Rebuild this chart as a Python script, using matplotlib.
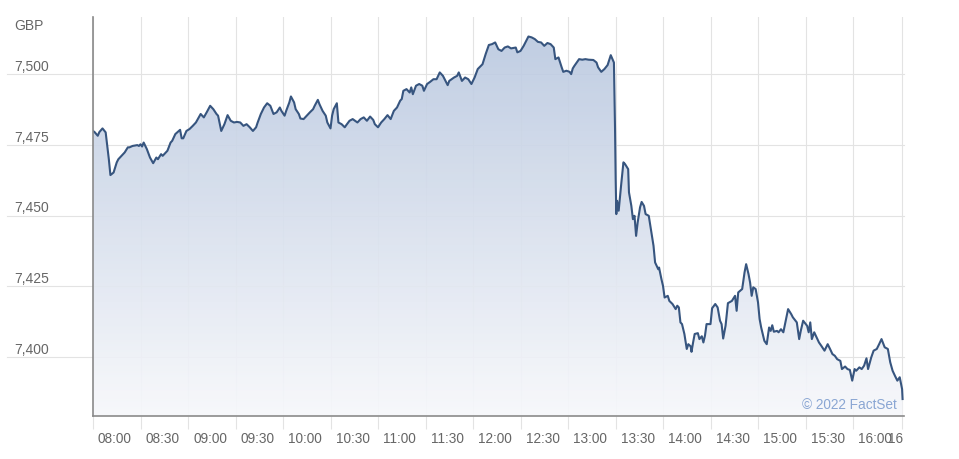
import matplotlib
matplotlib.use("Agg")
import matplotlib.pyplot as plt
import matplotlib.transforms as mtransforms
from matplotlib.patches import Polygon
from matplotlib.colors import LinearSegmentedColormap
import numpy as np

plt.rcParams['font.family'] = ['Liberation Sans', 'DejaVu Sans']

# intraday prices, minutes after 08:00
minutes_a = [0, 1, 3, 4, 6, 8, 9, 10, 11, 13, 15, 16, 18, 20, 22, 23, 25, 28, 29, 30,
             31, 32, 34, 36, 38, 40, 41, 43, 44, 47, 49, 50, 52, 55, 56, 57, 59, 61, 63, 65,
             68, 70, 72, 74, 76, 78, 79, 81, 83]
prices_a = [7479.9, 7479.5, 7478.2, 7479.5, 7480.8, 7479.4, 7474.6, 7469.9, 7464.3, 7465.2,
            7468.8, 7469.9, 7471.1, 7472.3, 7474.1, 7474.1, 7474.6, 7474.9, 7474.6, 7475.2,
            7474.4, 7475.8, 7473.5, 7470.5, 7468.5, 7470.5, 7469.9, 7471.7, 7471.1, 7472.9,
            7475.8, 7476.4, 7478.8, 7480.3, 7477.3, 7477.3, 7479.9, 7480.6, 7481.7, 7482.9,
            7485.9, 7484.7, 7486.7, 7488.8, 7487.6, 7485.9, 7485.3, 7479.9, 7482.3]

minutes_b = [85, 87, 89, 91, 93, 95, 97, 99, 101, 103, 104, 106, 108, 110, 112, 114, 116, 118, 119, 121,
             122, 124, 125, 127, 128, 130, 131, 133, 135, 137, 139, 140, 142, 143, 145, 147, 148, 150, 151, 152,
             154, 155, 157, 159, 160, 162, 164, 167, 169]
prices_b = [7485.5, 7483.5, 7482.9, 7483.1, 7482.9, 7481.7, 7482.3, 7481.2, 7479.9, 7481.2,
            7482.9, 7485.9, 7488.2, 7489.7, 7488.8, 7485.9, 7486.5, 7488.2, 7487.0, 7485.3,
            7487.0, 7490.0, 7492.1, 7490.0, 7487.6, 7485.9, 7484.3, 7484.1, 7485.3, 7486.5,
            7487.6, 7488.8, 7490.9, 7489.4, 7487.0, 7485.3, 7482.9, 7480.8, 7485.3, 7487.6,
            7489.7, 7482.9, 7482.3, 7481.2, 7482.0, 7483.5, 7484.1, 7482.9, 7484.1]

minutes_c = [171, 173, 175, 177, 178, 180, 182, 184, 186, 188, 190, 192, 194, 195, 196, 198, 200, 201, 202, 204,
             206, 208, 209, 211, 213, 215, 217, 219, 221, 224, 225, 228, 230, 231, 233, 235, 237, 239, 241, 243,
             246, 248, 250, 252, 254, 256]
prices_c = [7484.7, 7483.5, 7485.0, 7483.8, 7482.3, 7481.2, 7482.9, 7484.1, 7485.5, 7484.1,
            7487.0, 7488.2, 7490.6, 7491.2, 7494.1, 7494.7, 7493.5, 7495.3, 7492.9, 7495.9,
            7496.5, 7495.9, 7494.1, 7496.5, 7497.3, 7498.2, 7498.2, 7500.6, 7499.4, 7496.1,
            7497.6, 7498.8, 7499.4, 7500.6, 7497.6, 7498.8, 7498.2, 7496.5, 7498.8, 7501.8,
            7503.5, 7507.1, 7510.3, 7510.6, 7511.2, 7508.8]

minutes_d = [258, 260, 262, 264, 267, 268, 270, 272, 275, 277, 279, 281, 283, 285, 287, 289, 291, 292, 294, 296,
             297, 299, 301, 302, 303, 304, 307, 309, 311, 313, 316, 318, 319, 321, 323, 325, 327, 329, 329.7, 330.1,
             330.5, 331, 332, 333.5, 335, 336]
prices_d = [7508.2, 7509.4, 7509.8, 7509.1, 7509.4, 7507.7, 7508.2, 7510.0, 7513.3, 7513.0,
            7512.4, 7511.4, 7511.2, 7510.0, 7511.0, 7510.6, 7509.4, 7505.3, 7505.9, 7502.4,
            7500.8, 7501.2, 7500.8, 7500.0, 7502.0, 7502.9, 7505.3, 7505.1, 7505.3, 7505.1,
            7505.0, 7504.1, 7502.4, 7500.8, 7501.8, 7503.2, 7506.7, 7504.1, 7480.6, 7462.9,
            7450.5, 7455.2, 7451.7, 7460.5, 7468.8, 7468.2]

minutes_e = [338, 338.5, 340, 341, 342, 343, 344, 345.5, 346.5, 348, 349, 351, 352, 354, 355, 357, 357.5, 359, 360, 361,
             363, 364, 366, 368, 369, 370, 371, 372, 373.5, 375, 376, 377.5, 378, 379, 380, 382, 383, 384.5, 385.5, 386.5,
             387.5, 390, 391, 393, 394.5, 396, 397, 398, 399.5, 401, 403.5, 405.5, 406.5, 407.5, 410, 411.5, 412.5, 414, 415, 416,
             417, 418.5, 420, 421, 422, 424, 425.5]
prices_e = [7466.4, 7458.2, 7453.4, 7448.7, 7449.9, 7442.8, 7447.6, 7452.9, 7454.8, 7453.4,
            7450.5, 7449.9, 7446.4, 7439.3, 7433.4, 7431.0, 7431.6, 7427.5, 7425.1, 7421.0,
            7421.6, 7419.8, 7418.7, 7416.9, 7418.1, 7417.5, 7412.2, 7411.6, 7408.1, 7402.8,
            7404.5, 7403.7, 7401.8, 7405.1, 7408.1, 7408.4, 7406.3, 7407.3, 7405.1, 7407.5,
            7411.6, 7411.6, 7417.2, 7418.7, 7417.5, 7412.8, 7411.6, 7406.5, 7411.0, 7419.0,
            7419.8, 7421.6, 7416.3, 7422.8, 7424.0, 7429.9, 7432.8, 7429.3, 7426.3, 7421.6,
            7424.6, 7424.0, 7419.3, 7413.4, 7410.4, 7405.7, 7404.5]

minutes_f = [427, 428, 429, 430, 432, 433, 434.5, 436, 437.5, 439, 441, 442, 444.5, 446, 447, 448.5, 451, 452, 453, 454,
             455.5, 457, 458.5, 460, 462, 464, 465.5, 467, 468.5, 470, 472, 473, 475, 476.5, 478, 479.5, 481, 482, 484, 485.5,
             487, 488.5, 489.5, 491.5, 493, 495, 496.5, 498, 500, 502, 503.5, 505, 506.5, 508, 509.5, 511, 511.3]
prices_f = [7410.4, 7409.2, 7411.2, 7408.9, 7409.2, 7408.7, 7409.8, 7408.7, 7412.8, 7416.9,
            7415.1, 7414.0, 7412.2, 7406.3, 7409.2, 7412.8, 7411.0, 7408.7, 7412.2, 7406.3,
            7408.7, 7406.9, 7405.1, 7403.9, 7402.2, 7404.5, 7402.8, 7401.0, 7400.4, 7399.2,
            7398.6, 7395.7, 7396.6, 7395.7, 7395.4, 7391.6, 7395.7, 7395.1, 7396.3, 7395.7,
            7396.9, 7399.5, 7395.7, 7399.8, 7402.2, 7402.8, 7404.5, 7406.3, 7403.4, 7402.8,
            7398.1, 7395.1, 7393.3, 7391.6, 7392.8, 7388.6, 7385.1]

tick_minutes = [0, 30, 60, 90, 120, 150, 180, 210, 240, 270, 300, 330, 360, 390, 420, 450, 480]
tick_labels = ["08:00", "08:30", "09:00", "09:30", "10:00", "10:30", "11:00", "11:30", "12:00",
               "12:30", "13:00", "13:30", "14:00", "14:30", "15:00", "15:30", "16:00"]
last_tick = 511
last_label = "16"
y_ticks = [7400, 7425, 7450, 7475, 7500]
y_labels = ["7,400", "7,425", "7,450", "7,475", "7,500"]

x = np.array(minutes_a + minutes_b + minutes_c + minutes_d + minutes_e + minutes_f)
y = np.array(prices_a + prices_b + prices_c + prices_d + prices_e + prices_f)

x_lo, x_hi = 0, 512.2
y_lo, y_hi = 7379.1, 7520.2
grid_col = "#e3e3e3"
text_col = "#666666"

fig = plt.figure(figsize=(9.59, 4.6), dpi=100)
ax = fig.add_axes([93 / 959, 43 / 460, 811 / 959, 399 / 460])

# gradient area under the line
poly = Polygon([(x[0], y_lo)] + list(zip(x, y)) + [(x[-1], y_lo)], closed=True,
               facecolor="none", edgecolor="none")
ax.add_patch(poly)
cmap = LinearSegmentedColormap.from_list("fs", ["#f7f8fb", "#b8c7df"])
grad = np.linspace(0, 1, 256).reshape(-1, 1)
im = ax.imshow(grad, aspect="auto", cmap=cmap, origin="lower",
               extent=[x_lo, x_hi, y_lo, y_hi], zorder=1, alpha=0.92)
im.set_clip_path(poly)

ax.plot(x, y, color="#37557f", lw=1.5, zorder=3)

ax.set_xlim(x_lo, x_hi)
ax.set_ylim(y_lo, y_hi)

# vertical grid + tick marks
ax.set_xticks(tick_minutes + [last_tick])
ax.set_xticklabels([])
ax.tick_params(axis="x", length=9, width=0.8, color=grid_col, direction="out")
ax.grid(axis="x", color=grid_col, lw=0.8, zorder=0)
ax.set_axisbelow(True)
ax.set_yticks([])

# horizontal grid running out to the labels
for v in y_ticks:
    ax.plot([-86 / 811, 1], [v, v], transform=ax.get_yaxis_transform(), color=grid_col,
            lw=0.8, clip_on=False, zorder=0)

for side in ["top", "right"]:
    ax.spines[side].set_visible(False)
for side in ["left", "bottom"]:
    ax.spines[side].set_color("#8a8a8a")
    ax.spines[side].set_linewidth(1.2)
    ax.spines[side].set_zorder(4)

# y labels sitting above the gridlines
blend = mtransforms.blended_transform_factory(fig.transFigure, ax.transData)
lab_tr = mtransforms.offset_copy(blend, fig=fig, y=3, units="points")
for v, lbl in zip(y_ticks, y_labels):
    ax.text(14 / 959, v, lbl, transform=lab_tr, va="baseline", ha="left",
            fontsize=10, color=text_col)
fig.text(14 / 959, 1 - 29.5 / 460, "GBP", va="baseline", ha="left", fontsize=10, color=text_col)

# x labels to the right of each tick
for m, lbl in zip(tick_minutes, tick_labels):
    ax.annotate(lbl, xy=(m, 0), xycoords=("data", "axes fraction"), xytext=(3.6, -18.5),
                textcoords="offset points", ha="left", va="baseline", fontsize=9.8, color=text_col)
ax.annotate(last_label, xy=(last_tick, 0), xycoords=("data", "axes fraction"), xytext=(0.8, -18.5),
            textcoords="offset points", ha="right", va="baseline", fontsize=9.8, color=text_col)

fig.text(897 / 959, 1 - 409.5 / 460, "\u00a9 2022 FactSet", ha="right", va="baseline",
         fontsize=9.8, color="#8aa6d3")

fig.savefig("out.png", dpi=100)
